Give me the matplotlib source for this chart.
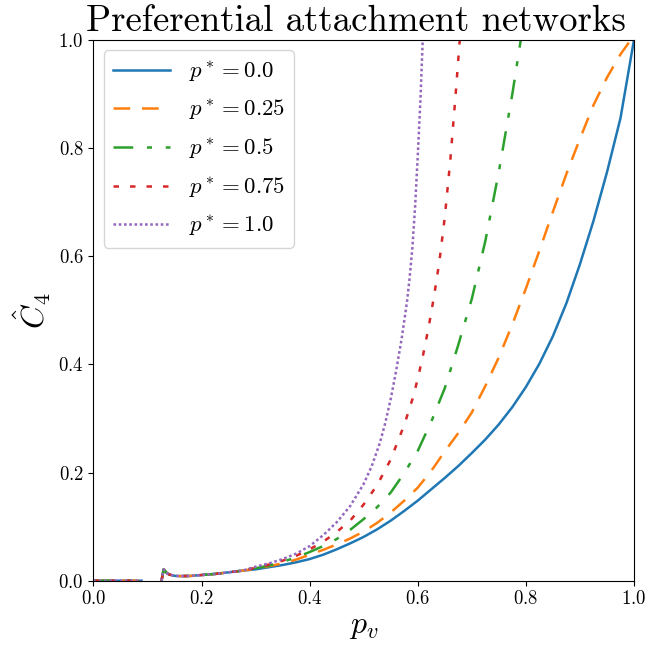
import numpy as np
import matplotlib
matplotlib.use("Agg")
import matplotlib.pyplot as plt

plt.rcParams.update({
    "font.family": "serif",
    "font.serif": ["cmr10"],
    "mathtext.fontset": "cm",
    "axes.formatter.use_mathtext": True,
    "axes.unicode_minus": False,
})

nan = np.nan

# shared low-p_v part (all curves coincide here)
p_low = [0.0, 0.045, 0.089, nan, 0.126, 0.13, 0.135, 0.14, 0.15, 0.16, 0.18,
         0.20, 0.225, 0.25, 0.275]
c_low = [0.0, 0.0, 0.0, nan, 0.0, 0.021, 0.015, 0.0115, 0.009, 0.0085, 0.0088,
         0.0105, 0.0125, 0.0155, 0.0185]

# p* = 0.0
p_00 = [0.300, 0.325, 0.350, 0.375, 0.400, 0.425, 0.450, 0.475, 0.500, 0.525,
        0.550, 0.575, 0.600, 0.625, 0.650, 0.675, 0.700, 0.725, 0.750, 0.775,
        0.800, 0.825, 0.850, 0.875, 0.900, 0.925, 0.950, 0.975, 1.000]
c_00 = [0.021, 0.025, 0.029, 0.034, 0.040, 0.048, 0.058, 0.069, 0.081, 0.095,
        0.111, 0.129, 0.148, 0.169, 0.190, 0.212, 0.236, 0.261, 0.289, 0.321,
        0.358, 0.401, 0.452, 0.513, 0.585, 0.665, 0.755, 0.855, 1.000]

# p* = 0.25
p_025 = [0.300, 0.325, 0.350, 0.375, 0.400, 0.425, 0.450, 0.475, 0.500, 0.525,
         0.550, 0.575, 0.600, 0.625, 0.650, 0.675, 0.700, 0.725, 0.750, 0.775,
         0.800, 0.825, 0.850, 0.875, 0.900, 0.925, 0.950, 0.975, 1.000]
c_025 = [0.022, 0.027, 0.032, 0.039, 0.048, 0.057, 0.067, 0.078, 0.091, 0.107,
         0.126, 0.148, 0.172, 0.203, 0.239, 0.273, 0.311, 0.360, 0.413, 0.474,
         0.540, 0.610, 0.682, 0.752, 0.817, 0.879, 0.930, 0.973, 1.008]

# p* = 0.5
p_05 = [0.300, 0.325, 0.350, 0.375, 0.400, 0.425, 0.450, 0.475, 0.500, 0.525,
        0.550, 0.575, 0.600, 0.625, 0.650, 0.675, 0.700, 0.725, 0.750, 0.775,
        0.800]
c_05 = [0.023, 0.028, 0.035, 0.043, 0.053, 0.064, 0.077, 0.094, 0.114, 0.136,
        0.163, 0.199, 0.240, 0.294, 0.356, 0.436, 0.521, 0.628, 0.756, 0.900,
        1.060]

# p* = 0.75
p_075 = [0.300, 0.325, 0.350, 0.375, 0.400, 0.425, 0.450, 0.475, 0.500, 0.525,
         0.550, 0.575, 0.590, 0.600, 0.610, 0.620, 0.630, 0.640, 0.650, 0.660,
         0.670, 0.680]
c_075 = [0.024, 0.030, 0.037, 0.046, 0.058, 0.072, 0.090, 0.111, 0.141, 0.177,
         0.224, 0.288, 0.335, 0.373, 0.418, 0.468, 0.525, 0.590, 0.672, 0.775,
         0.898, 1.030]

# p* = 1.0
p_10 = [0.300, 0.325, 0.350, 0.375, 0.400, 0.425, 0.450, 0.475, 0.500, 0.515,
        0.530, 0.540, 0.550, 0.560, 0.570, 0.580, 0.585, 0.590, 0.595, 0.600,
        0.605, 0.610, 0.615]
c_10 = [0.026, 0.032, 0.040, 0.050, 0.064, 0.084, 0.108, 0.138, 0.179, 0.212,
        0.255, 0.292, 0.336, 0.388, 0.446, 0.515, 0.560, 0.615, 0.690, 0.785,
        0.890, 1.020, 1.150]

labels = [r"$p^* = 0.0$", r"$p^* = 0.25$", r"$p^* = 0.5$", r"$p^* = 0.75$",
          r"$p^* = 1.0$"]
series = [(p_00, c_00), (p_025, c_025), (p_05, c_05), (p_075, c_075), (p_10, c_10)]
colors = ["#1f77b4", "#ff7f0e", "#2ca02c", "#d62728", "#9467bd"]
styles = ["-", (0, (6.7, 4.7)), (0, (7.9, 5.5, 2.0, 5.5)), (0, (2.2, 4.4)),
          (0, (1.05, 1.05))]

W, H = 648, 653
fig = plt.figure(figsize=(W / 100, H / 100), dpi=100)
left, right, top, bottom = 93.4, 634.0, 39.7, 580.7
ax = fig.add_axes([left / W, 1 - bottom / H, (right - left) / W, (bottom - top) / H])

for (px, cy), lab, col, ls in zip(series, labels, colors, styles):
    x = np.array(p_low + px, dtype=float)
    y = np.array(c_low + cy, dtype=float)
    ax.plot(x, y, color=col, linestyle=ls, linewidth=1.8, label=lab)

ax.set_xlim(0, 1)
ax.set_ylim(0, 1)
ax.set_xticks([0.0, 0.2, 0.4, 0.6, 0.8, 1.0])
ax.set_yticks([0.0, 0.2, 0.4, 0.6, 0.8, 1.0])
ax.tick_params(labelsize=13.5)
ax.set_xlabel(r"$p_v$", fontsize=23)
ax.set_ylabel(r"$\hat{C}_4$", fontsize=23)
ax.set_title("Preferential attachment networks", fontsize=26.5, x=0.485)

ax.legend(loc="upper left", fontsize=16.5, handlelength=2.5, labelspacing=0.62,
          borderaxespad=0.45)

fig.savefig("out.png", dpi=100)
